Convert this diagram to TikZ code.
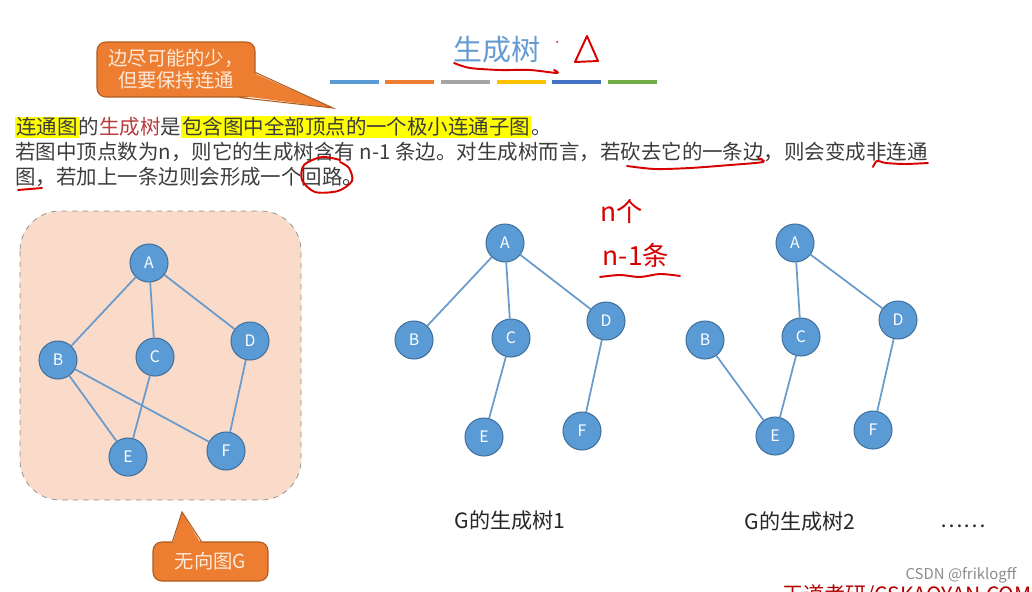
\documentclass[tikz,border=0pt]{standalone}
\usepackage{fontspec}
\setmainfont{Noto Sans CJK SC}
\usetikzlibrary{calc}

\definecolor{nodeblue}{RGB}{91,155,213}
\definecolor{nodeedge}{RGB}{65,113,156}
\definecolor{lineblue}{RGB}{105,155,205}
\definecolor{titleblue}{RGB}{100,155,210}
\definecolor{peach}{RGB}{250,218,200}
\definecolor{noteorange}{RGB}{237,125,49}
\definecolor{noteedge}{RGB}{174,90,33}
\definecolor{notetext}{RGB}{253,234,218}
\definecolor{textgray}{RGB}{60,60,60}
\definecolor{treered}{RGB}{185,60,60}
\definecolor{inkred}{RGB}{215,0,0}
\definecolor{hlyellow}{RGB}{255,255,0}
\definecolor{bargray}{RGB}{165,165,165}
\definecolor{baryellow}{RGB}{255,192,0}
\definecolor{bardarkblue}{RGB}{68,114,196}
\definecolor{bargreen}{RGB}{112,173,71}

\newcommand{\hl}[1]{{\setlength{\fboxsep}{0.6pt}\colorbox{hlyellow}{#1}}}

\tikzset{
  vertex/.style={circle, fill=nodeblue, draw=nodeedge, line width=0.6pt,
    minimum size=0.76cm, inner sep=0pt, text=white, font=\fontsize{9}{10}\selectfont},
  link/.style={draw=lineblue, line width=1pt},
  notebox/.style={fill=noteorange, draw=noteedge, line width=0.6pt, rounded corners=5pt,
    text=notetext, align=center, inner sep=0pt, font=\fontsize{11}{12.5}\selectfont},
  textline/.style={anchor=west, inner sep=0pt, text=textgray, font=\fontsize{11.65}{14}\selectfont},
  caption/.style={text=black!85, font=\fontsize{12}{13}\selectfont},
  ink/.style={draw=inkred, line width=1.1pt, line cap=round, line join=round}
}

\begin{document}
\begin{tikzpicture}[x=0.02cm, y=-0.02cm]
  \useasboundingbox (0,0) rectangle (1032,592);

  %title and colour bars
  \node[text=titleblue, font=\fontsize{16.5}{18}\selectfont] (title) at (497,50) {生成树};
  \foreach \x/\c in {330/nodeblue, 385/noteorange, 441/bargray, 497/baryellow, 552/bardarkblue, 608/bargreen}{
    \fill[\c] (\x,80) rectangle +(49,4);
  }

  %definition text
  \node[textline] (line1) at (15,127) {\hl{连通图}的\textcolor{treered}{生成树}是\hl{包含图中全部顶点的一个极小连通子图}。};
  \node[textline] (line2) at (15,152) {若图中顶点数为n，则它的生成树含有 n-1 条边。对生成树而言，若砍去它的一条边，则会变成非连通};
  \node[textline] (line3) at (15,177) {图，若加上一条边则会形成一个回路。};

  %top note
  \node[notebox, minimum width=3.16cm, minimum height=1.1cm] (edgenote) at (176,69.5) {边尽可能的少，\\但要保持连通};
  \coordinate (edgetip) at (333,108);
  \fill[noteorange] ($(edgenote.east)+(-3,3)$) -- (edgetip) -- ($(edgenote.south east)+(-17,-2)$) -- cycle;
  \draw[noteedge, line width=0.6pt] ($(edgenote.east)+(0,3)$) -- (edgetip) -- ($(edgenote.south east)+(-16,0)$);

  %graph G
  \draw[dashed, draw=black!45, fill=peach, rounded corners=0.8cm] (20,211) rectangle (301,500);
  \node[vertex] (gA) at (149,263) {A};
  \node[vertex] (gB) at (58,360) {B};
  \node[vertex] (gC) at (155,357) {C};
  \node[vertex] (gD) at (250,341) {D};
  \node[vertex] (gE) at (128,457) {E};
  \node[vertex] (gF) at (226,451) {F};
  \foreach \a/\b in {A/B, A/C, A/D, B/E, B/F, C/E, D/F}{
    \draw[link] (g\a) -- (g\b);
  }

  %bottom note
  \node[notebox, minimum width=2.3cm, minimum height=0.78cm] (graphnote) at (210.5,561.5) {无向图G};
  \coordinate (graphtip) at (182,512);
  \fill[noteorange] ($(graphnote.north west)+(20,3)$) -- (graphtip) -- ($(graphnote.north west)+(49,3)$) -- cycle;
  \draw[noteedge, line width=0.6pt] ($(graphnote.north west)+(20,0)$) -- (graphtip) -- ($(graphnote.north west)+(49,0)$);

  %spanning tree 1
  \node[vertex] (sA) at (505,243) {A};
  \node[vertex] (sB) at (414,340) {B};
  \node[vertex] (sC) at (511,338) {C};
  \node[vertex] (sD) at (606,321) {D};
  \node[vertex] (sE) at (484,437) {E};
  \node[vertex] (sF) at (582,431) {F};
  \foreach \a/\b in {A/B, A/C, A/D, C/E, D/F}{
    \draw[link] (s\a) -- (s\b);
  }
  \node[caption] (cap1) at (510,521) {G的生成树1};

  %spanning tree 2
  \node[vertex] (tA) at (795,243) {A};
  \node[vertex] (tB) at (705,340) {B};
  \node[vertex] (tC) at (801,337) {C};
  \node[vertex] (tD) at (898,320) {D};
  \node[vertex] (tE) at (775,436) {E};
  \node[vertex] (tF) at (873,430) {F};
  \foreach \a/\b in {A/C, A/D, B/E, C/E, D/F}{
    \draw[link] (t\a) -- (t\b);
  }
  \node[caption] (cap2) at (800,522) {G的生成树2};
  \node[caption] (dots) at (963,526) {……};

  %hand marks
  \draw[ink] plot[smooth] coordinates {(454,63) (470,68) (500,70) (530,70) (557,73) (554,70)};
  \fill[inkred] (557,42) circle (1);
  \draw[ink] (587,36) -- (575,62) -- (598,61) -- cycle;
  \draw[ink] plot[smooth] coordinates {(627,166) (655,169) (690,168) (730,165) (763,162) (758,158)};
  \draw[ink] plot[smooth] coordinates {(873,167) (877,161) (886,163) (905,164) (928,163)};
  \draw[ink] (18,190) -- (42,188);
  \draw[ink] plot[smooth] coordinates {(340,160) (322,157) (304,165) (302,180) (315,192) (338,191) (352,181) (349,168) (340,162)};
  \node[text=inkred, font=\fontsize{15}{16}\selectfont] (nodecount) at (622,211) {n个};
  \node[text=inkred, font=\fontsize{15}{16}\selectfont] (edgecount) at (636,255) {n-1条};
  \draw[ink] plot[smooth] coordinates {(600,277) (620,275) (640,277) (660,274) (680,276)};

  %marks at the lower right
  \node[text=black!45, font=\fontsize{8.5}{10}\selectfont] (csdn) at (961,575) {CSDN @friklogff};
  \begin{scope}
    \clip (0,0) rectangle (1032,592);
    \node[anchor=north west, inner sep=0pt, text=red!70!black, font=\fontsize{12}{13}\selectfont] (site) at (782,584) {王道考研/CSKAOYAN.COM};
  \end{scope}
\end{tikzpicture}
\end{document}
